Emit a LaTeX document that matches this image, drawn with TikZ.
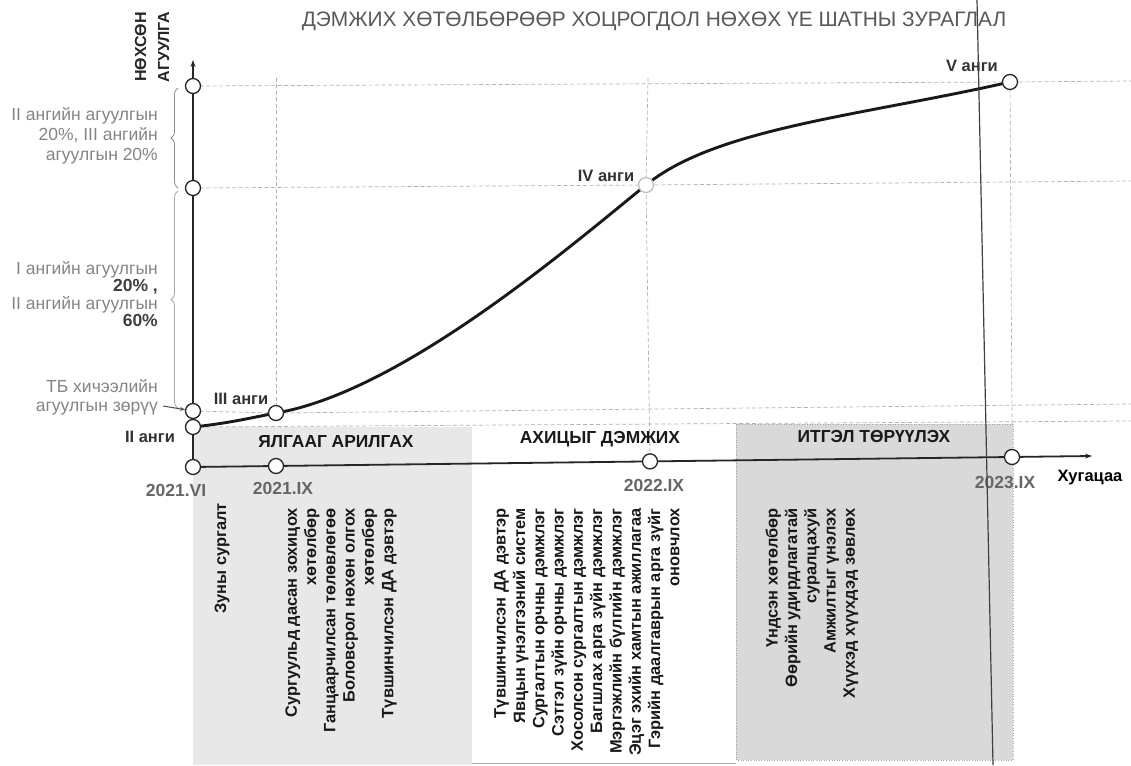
\documentclass[tikz,border=0pt]{standalone}
\usepackage{fontspec}
\setmainfont{Liberation Sans}
\usetikzlibrary{arrows.meta,decorations.pathreplacing}
\pgfdeclarelayer{bg}
\pgfsetlayers{bg,main}
\begin{document}
\begin{tikzpicture}[x=1pt,y=-1pt,
  pt/.style={circle,draw=black!85,fill=white,line width=1.3pt,minimum size=15pt,inner sep=0pt},
  grid/.style={draw=black!30,line width=0.7pt,dash pattern=on 4pt off 2.5pt},
  axis/.style={draw=black!85,line width=1.8pt},
  lbl/.style={font=\bfseries\fontsize{16.5}{18}\selectfont,text=black!80},
  datelbl/.style={font=\bfseries\fontsize{17.5}{19}\selectfont,text=black!60},
  bandlbl/.style={font=\bfseries\fontsize{17.4}{19}\selectfont,text=black!90},
  side/.style={text=black!48,align=right,anchor=east,inner sep=0pt},
  vlist/.style={rotate=90,anchor=east,align=right,inner sep=0pt,font=\bfseries\fontsize{16.4}{19.3}\selectfont,text=black!90},
  bracestyle/.style={decorate,decoration={brace,amplitude=7pt},draw=black!45,line width=0.8pt},
]
\useasboundingbox (0,0) rectangle (1131,765);

% ---- nodes (circles) ----
\node[pt] (top) at (193,86) {};
\node[pt] (mid) at (193,188) {};
\node[pt] (tb) at (193,411) {};
\node[pt] (c2) at (193,427) {};
\node[pt] (o) at (193,467) {};
\node[pt] (c3) at (276,413) {};
\node[pt,draw=black!25] (c4) at (646,185) {};
\node[pt] (c5) at (1010,82) {};
\node[pt] (t1) at (276,466) {};
\node[pt] (t2) at (650,461.4) {};
\node[pt] (t3) at (1012,457) {};

\coordinate (yend) at (193,60);
\coordinate (xend) at (1092,456);
\coordinate (gR1) at (1131,81);
\coordinate (gR2) at (1131,181);
\coordinate (gR3) at (1131,404);
\coordinate (gR4) at (1131,421);
\coordinate (v1top) at (276,78);
\coordinate (v2top) at (648,78);
\coordinate (v3bot) at (1012,424);
\coordinate (scanA) at (977,0);
\coordinate (scanB) at (993,765);
\coordinate (arrA) at (163,406);

\begin{pgfonlayer}{bg}
  \fill[white] (0,0) rectangle (1131,765);
  % bands
  \path[fill=black!9] (193,427) rectangle (472,765);
  \draw[black!30,line width=0.6pt] (472,763) -- (736,763);
  \path[fill=black!15,draw=black!35,line width=0.6pt,dotted] (736,424) rectangle (1013,760);
  % grid
  \draw[grid] (top.center) -- (c5.center) -- (gR1);
  \draw[grid] (mid.center) -- (c4.center) -- (gR2);
  \draw[grid] (tb.center) -- (c3.center) -- (gR3);
  \draw[grid] (c2.center) -- (gR4);
  \draw[grid] (v1top) -- (c3.center);
  \draw[grid] (v2top) -- (c4.center) -- (t2.center);
  \draw[grid] (c5.center) -- (v3bot);
  % axes
  \draw[axis,-{Stealth[length=7pt,width=5pt]}] (o.center) -- (yend);
  \draw[axis,-{Stealth[length=7pt,width=5pt]}] (o.center) -- (xend);
  % curve
  \draw[line width=2.9pt,black!90,line cap=round] (c2.center) .. controls (230,423) and (250,418) .. (c3.center)
     .. controls (400,392) and (566,250) .. (c4.center)
     .. controls (716,128) and (860,116) .. (c5.center);
  % braces
  \draw[bracestyle] (178,188) -- (178,88);
  \draw[bracestyle,draw=black!35] (178,408) -- (178,191);
\end{pgfonlayer}

% arrow TB
\draw[black!70,line width=1pt,-{Stealth[length=5pt,width=4pt]}] (arrA) -- (tb);

% title
\node[font=\fontsize{20.9}{23}\selectfont,text=black!65] (title) at (654,21) {ДЭМЖИХ ХӨТӨЛБӨРӨӨР ХОЦРОГДОЛ НӨХӨХ ҮЕ ШАТНЫ ЗУРАГЛАЛ};
\node[rotate=90,font=\bfseries\fontsize{16}{23}\selectfont,align=center,text=black!85] (ytitle) at (152,47) {НӨХСӨН\\АГУУЛГА};

% side labels
\node[side,font=\fontsize{17.5}{20}\selectfont] (s1) at (158,136) {II ангийн агуулгын\\20\%, III ангийн\\агуулгын 20\%};
\node[side,font=\fontsize{17.5}{17.5}\selectfont] (s2) at (158,294) {I ангийн агуулгын\\\textbf{\textcolor{black!75}{20\% ,}}\\II ангийн агуулгын\\\textbf{\textcolor{black!75}{60\%}}};
\node[side,font=\fontsize{17.5}{19}\selectfont] (s3) at (158,397) {ТБ хичээлийн\\агуулгын зөрүү};

% grade labels
\node[lbl] (l2) at (150,437) {II анги};
\node[lbl] (l3) at (241,399) {III анги};
\node[lbl] (l4) at (606,176) {IV анги};
\node[lbl] (l5) at (972,66) {V анги};

% dates
\node[datelbl] (d0) at (176,490) {2021.VI};
\node[datelbl] (d1) at (283,488) {2021.IX};
\node[datelbl] (d2) at (654,485) {2022.IX};
\node[datelbl] (d3) at (1005,482) {2023.IX};
\node[font=\bfseries\fontsize{16.5}{18}\selectfont] (xl) at (1090,478) {Хугацаа};

% band labels
\node[bandlbl] (b1) at (336,442) {ЯЛГААГ АРИЛГАХ};
\node[bandlbl] (b2) at (600,439) {АХИЦЫГ ДЭМЖИХ};
\node[bandlbl] (b3) at (874,437) {ИТГЭЛ ТӨРҮҮЛЭХ};

% lists
\node[vlist] (L0) at (222,503) {Зуны сургалт};
\node[vlist] (L1) at (341,508) {Сургуульд дасан зохицох\\хөтөлбөр\\Ганцаарчилсан төлөвлөгөө\\Боловсрол нөхөн олгох\\хөтөлбөр\\Түвшинчилсэн ДА дэвтэр};
\node[vlist] (L2) at (587,508) {Түвшинчилсэн ДА дэвтэр\\Явцын үнэлгээний систем\\Сургалтын орчны дэмжлэг\\Сэтгэл зүйн орчны дэмжлэг\\Хосолсон сургалтын дэмжлэг\\Багшлах арга зүйн дэмжлэг\\Мэргэжлийн бүлгийн дэмжлэг\\Эцэг эхийн хамтын ажиллагаа\\Гэрийн даалгаврын арга зүйг\\оновчлох};
\node[vlist] (L3) at (812,508) {Үндсэн хөтөлбөр\\Өөрийн удирдлагатай\\суралцахуй\\Амжилтыг үнэлэх\\Хүүхэд хүүхдэд зөвлөх};

% scan line
\draw[black!75,line width=1.2pt] (scanA) -- (scanB);
\end{tikzpicture}
\end{document}
